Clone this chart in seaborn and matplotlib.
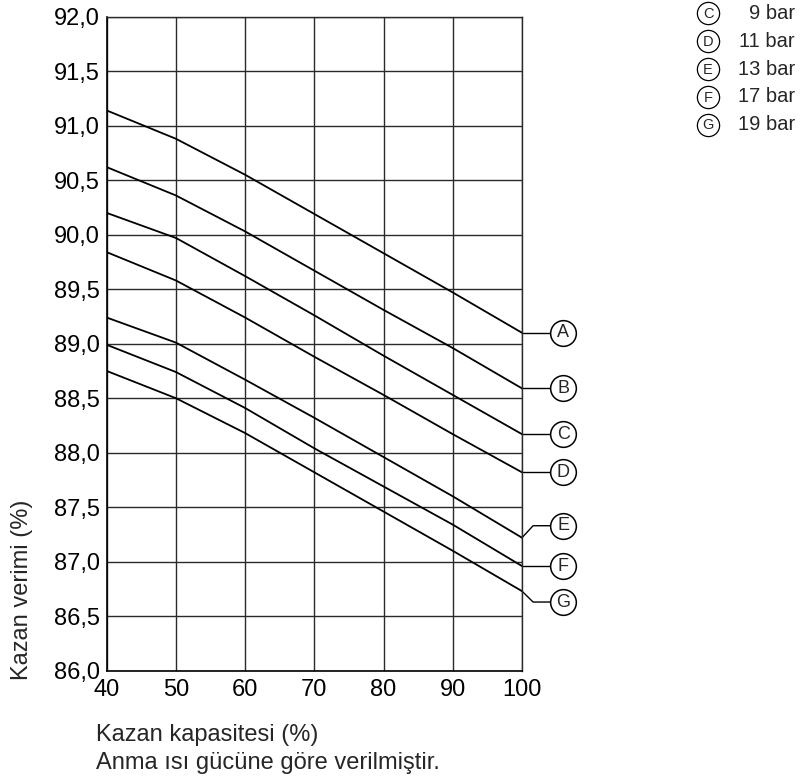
import matplotlib
matplotlib.use("Agg")
import matplotlib.pyplot as plt
import pandas as pd
import seaborn as sns

# Boiler efficiency vs. boiler load for different operating pressures
capacity = [40, 50, 60, 70, 80, 90, 100]
eff_A = [91.14, 90.88, 90.55, 90.19, 89.83, 89.47, 89.10]
eff_B = [90.62, 90.36, 90.03, 89.67, 89.31, 88.96, 88.59]
eff_C = [90.20, 89.97, 89.62, 89.26, 88.89, 88.53, 88.17]
eff_D = [89.84, 89.58, 89.24, 88.88, 88.53, 88.17, 87.82]
eff_E = [89.24, 89.01, 88.67, 88.32, 87.96, 87.60, 87.22]
eff_F = [88.99, 88.74, 88.41, 88.04, 87.69, 87.34, 86.96]
eff_G = [88.75, 88.50, 88.18, 87.82, 87.46, 87.10, 86.73]
curve_ids = ["A", "B", "C", "D", "E", "F", "G"]

legend_ids = ["C", "D", "E", "F", "G"]
legend_pressures = ["9 bar", "11 bar", "13 bar", "17 bar", "19 bar"]

x_ticks = [40, 50, 60, 70, 80, 90, 100]
y_ticks = [86.0, 86.5, 87.0, 87.5, 88.0, 88.5, 89.0, 89.5, 90.0, 90.5, 91.0, 91.5, 92.0]
y_tick_labels = ["86,0", "86,5", "87,0", "87,5", "88,0", "88,5", "89,0",
                 "89,5", "90,0", "90,5", "91,0", "91,5", "92,0"]

x_label = "Kazan kapasitesi (%)"
x_note = "Anma ısı gücüne göre verilmiştir."
y_label = "Kazan verimi (%)"

series = [eff_A, eff_B, eff_C, eff_D, eff_E, eff_F, eff_G]
df = pd.DataFrame({
    "capacity": capacity * len(curve_ids),
    "efficiency": [v for s in series for v in s],
    "curve": [c for c in curve_ids for _ in capacity],
})

sns.set_theme(style="white")
plt.rcParams["font.family"] = ["Liberation Sans", "DejaVu Sans"]

W, H = 801, 776
fig = plt.figure(figsize=(W / 100, H / 100), dpi=100)
ax = fig.add_axes([106.7 / W, 1 - 670.7 / H, (522 - 106.7) / W, (670.7 - 16.7) / H])

sns.lineplot(data=df, x="capacity", y="efficiency", hue="curve",
             palette=["black"] * len(curve_ids), linewidth=1.3,
             legend=False, ax=ax)

ax.set_xlim(40, 100)
ax.set_ylim(86, 92)
ax.set_xticks(x_ticks)
ax.set_xticklabels([str(t) for t in x_ticks])
ax.set_yticks(y_ticks)
ax.set_yticklabels(y_tick_labels)
ax.grid(True, color="#2a2a2a", linewidth=1.0)
ax.tick_params(axis="both", length=0, labelsize=17, colors="black")
ax.tick_params(axis="x", pad=6)
ax.tick_params(axis="y", pad=5)
ax.set_xlabel("")
ax.set_ylabel("")
for side, sp in ax.spines.items():
    sp.set_color("black" if side in ("left", "bottom") else "#2a2a2a")
    sp.set_linewidth(1.2 if side in ("left", "bottom") else 1.0)

# Curve tags at the right end with short leader lines
label_shift = {"E": 0.11, "G": -0.10}
for cid, s in zip(curve_ids, series):
    y_end = s[-1]
    y_lab = y_end + label_shift.get(cid, 0.0)
    if cid in label_shift:
        xs, ys = [100, 101.6, 104.1], [y_end, y_lab, y_lab]
    else:
        xs, ys = [100, 104.1], [y_end, y_end]
    ax.plot(xs, ys, color="black", linewidth=1.0, clip_on=False)
    ax.plot([105.95], [y_lab], marker="o", markersize=18.5, markerfacecolor="white",
            markeredgecolor="black", markeredgewidth=1.1, clip_on=False)
    ax.text(105.95, y_lab, cid, ha="center", va="center", fontsize=13, clip_on=False)

# Pressure key, top right
ov = fig.add_axes([0, 0, 1, 1])
ov.set_xlim(0, W)
ov.set_ylim(H, 0)
ov.axis("off")
for i, (lid, lp) in enumerate(zip(legend_ids, legend_pressures)):
    yy = 13.3 + i * 27.9
    ov.plot([708], [yy], marker="o", markersize=16, markerfacecolor="white",
            markeredgecolor="black", markeredgewidth=0.9)
    ov.text(708, yy + 0.5, lid, ha="center", va="center", fontsize=10.5)
    ov.text(795, yy, lp, ha="right", va="center", fontsize=14.5)

fig.text(22 / W, 1 - 680 / H, y_label, rotation=90, ha="center", va="bottom", fontsize=17)
fig.text(96 / W, 1 - 735 / H, x_label, ha="left", va="center", fontsize=17)
fig.text(96 / W, 1 - 762.7 / H, x_note, ha="left", va="center", fontsize=17)

fig.savefig("out.png", dpi=100)
